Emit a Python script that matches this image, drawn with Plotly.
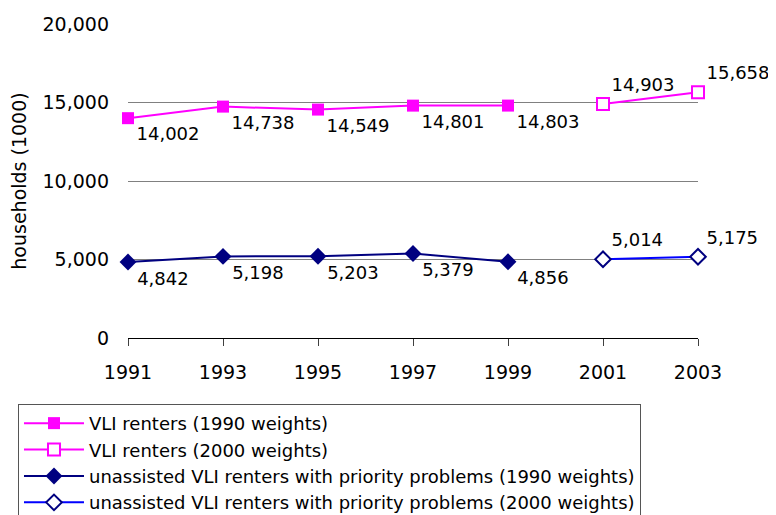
import plotly.graph_objects as go

years_1990 = [1991, 1993, 1995, 1997, 1999]
years_2000 = [2001, 2003]
vli_1990 = [14002, 14738, 14549, 14801, 14803]
vli_2000 = [14903, 15658]
prio_1990 = [4842, 5198, 5203, 5379, 4856]
prio_2000 = [5014, 5175]
x_ticks = [1991, 1993, 1995, 1997, 1999, 2001, 2003]
y_ticks = [0, 5000, 10000, 15000, 20000]

MAGENTA = "#FF00FF"
NAVY = "#000080"
FONT = "DejaVu Sans"


def fmt(vals):
    return [f"{v:,}" for v in vals]


fig = go.Figure()
fig.add_trace(go.Scatter(
    x=years_1990, y=vli_1990, name="VLI renters (1990 weights)",
    mode="lines+markers+text", text=fmt(vli_1990), textposition="bottom right",
    line=dict(color=MAGENTA, width=2),
    marker=dict(symbol="square", size=12, color=MAGENTA),
))
fig.add_trace(go.Scatter(
    x=years_2000, y=vli_2000, name="VLI renters (2000 weights)",
    mode="lines+markers+text", text=fmt(vli_2000), textposition="top right",
    line=dict(color=MAGENTA, width=2),
    marker=dict(symbol="square", size=12, color="white",
                line=dict(color=MAGENTA, width=2)),
))
fig.add_trace(go.Scatter(
    x=years_1990, y=prio_1990,
    name="unassisted VLI renters with priority problems (1990 weights)",
    mode="lines+markers+text", text=fmt(prio_1990), textposition="bottom right",
    line=dict(color=NAVY, width=2),
    marker=dict(symbol="diamond", size=13, color=NAVY),
))
fig.add_trace(go.Scatter(
    x=years_2000, y=prio_2000,
    name="unassisted VLI renters with priority problems (2000 weights)",
    mode="lines+markers+text", text=fmt(prio_2000), textposition="top right",
    line=dict(color="#0000FF", width=2),
    marker=dict(symbol="diamond", size=12, color="white",
                line=dict(color=NAVY, width=2)),
))

fig.update_traces(textfont=dict(family=FONT, size=18, color="black"),
                  hoverinfo="skip", cliponaxis=False)

# page body keeps its default 8px margin, so the figure is shifted by 8px
fig.update_layout(
    width=768, height=507,
    margin=dict(l=120, r=78, t=16, b=177, autoexpand=False),
    paper_bgcolor="white", plot_bgcolor="white",
    font=dict(family=FONT, size=19, color="black"),
    showlegend=True,
    legend=dict(
        x=-0.193, y=-0.21, xanchor="left", yanchor="top",
        bordercolor="#555555", borderwidth=1,
        font=dict(family=FONT, size=18, color="black"),
        itemwidth=60, tracegroupgap=0,
    ),
    xaxis=dict(
        range=[1991, 2003], tickvals=x_ticks, ticktext=[str(v) for v in x_ticks],
        showgrid=False, zeroline=False, automargin=False,
        showline=True, linecolor="black", linewidth=1,
        ticks="outside", ticklen=7, tickcolor="#404040",
        ticklabelstandoff=10,
    ),
    yaxis=dict(
        range=[0, 20000], tickvals=y_ticks, ticktext=fmt(y_ticks),
        showgrid=True, gridcolor="#808080", gridwidth=1,
        zeroline=False, showline=False, ticks="", automargin=False,
        ticklabelstandoff=18,
        title=dict(text="households (1000)", standoff=11,
                   font=dict(family=FONT, size=19)),
    ),
)

fig.write_html("out.html")
